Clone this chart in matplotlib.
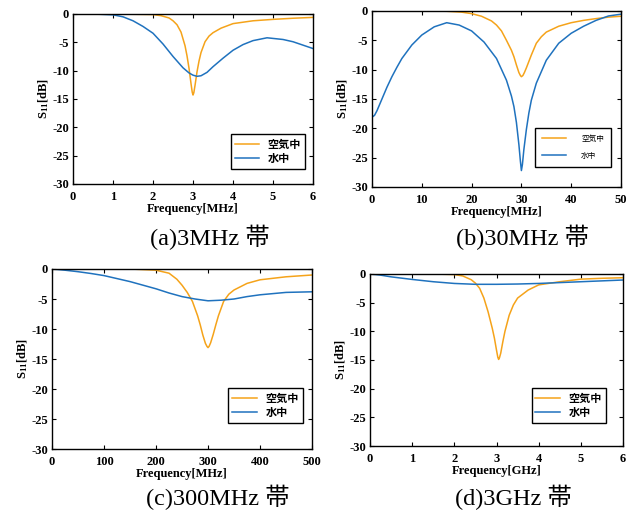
import matplotlib
matplotlib.use('Agg')
import matplotlib.pyplot as plt

# 色
AIR_COLOR = '#F5A31A'
WATER_COLOR = '#1F72BE'

# (a) 3MHz帯
freq_a_air = [0, 1, 2, 2.2, 2.4, 2.5, 2.6, 2.7, 2.8, 2.85, 2.9, 2.95, 2.98, 3.0, 3.02, 3.05, 3.1,
              3.15, 3.2, 3.3, 3.4, 3.5, 3.7, 4.0, 4.5, 5.0, 5.5, 6.0]
s11_a_air = [0, 0, -0.1, -0.3, -0.7, -1.2, -1.9, -3.2, -5.6, -7.4, -9.6, -12.3, -13.8, -14.3,
             -13.9, -12.6, -10.2, -8.3, -6.8, -4.9, -3.9, -3.3, -2.5, -1.7, -1.2, -0.95, -0.75,
             -0.6]
freq_a_water = [0, 0.5, 1.0, 1.25, 1.5, 1.75, 2.0, 2.25, 2.5, 2.75, 2.9, 3.0, 3.1, 3.2, 3.35,
                3.5, 3.75, 4.0, 4.25, 4.5, 4.85, 5.25, 5.5, 5.75, 6.0]
s11_a_water = [0, 0, -0.15, -0.5, -1.2, -2.2, -3.4, -5.3, -7.5, -9.5, -10.4, -10.8, -11.0, -10.9,
               -10.3, -9.3, -7.8, -6.4, -5.4, -4.7, -4.2, -4.5, -4.9, -5.5, -6.1]

# (b) 30MHz帯
freq_b_air = [0, 10, 15, 18, 20, 22, 24, 25, 26, 27, 28, 28.5, 29, 29.5, 29.8, 30, 30.3, 30.6, 31,
              31.5, 32, 33, 34, 35, 37.5, 40, 42.5, 45, 47.5, 50]
s11_b_air = [0, 0, -0.05, -0.2, -0.45, -0.9, -1.7, -2.4, -3.4, -5.0, -6.7, -7.8, -9.2, -10.5,
             -11.0, -11.2, -11.0, -10.5, -9.7, -8.6, -7.5, -5.5, -4.4, -3.6, -2.6, -2.0, -1.6,
             -1.3, -1.05, -0.9]
freq_b_water = [0, 0.5, 1, 2, 3, 4, 5, 6, 8, 10, 12.5, 15, 17.5, 20, 22.5, 25, 27, 28, 28.5, 29,
                29.5, 29.8, 30, 30.2, 30.5, 31, 31.5, 32, 33, 35, 37.5, 40, 42.5, 45, 47.5, 50]
s11_b_water = [-18.1, -17.8, -17.0, -15.0, -13.0, -11.2, -9.6, -8.1, -5.8, -4.1, -2.7, -2.0, -2.4,
               -3.4, -5.3, -8.1, -11.8, -14.5, -16.3, -19.0, -22.8, -25.6, -27.2, -26.2, -23.6,
               -20.2, -17.4, -15.2, -12.3, -8.4, -5.5, -3.8, -2.6, -1.6, -0.85, -0.55]

# (c) 300MHz帯
freq_c_air = [0, 150, 200, 225, 240, 250, 260, 270, 280, 285, 290, 295, 298, 300, 302, 305, 310,
              315, 320, 330, 340, 350, 375, 400, 450, 500]
s11_c_air = [0, 0, -0.2, -0.7, -1.7, -2.7, -3.9, -5.4, -7.8, -9.3, -11.0, -12.4, -12.9, -13.1,
             -12.9, -12.3, -10.9, -9.3, -7.8, -5.4, -4.2, -3.5, -2.4, -1.8, -1.3, -1.0]
freq_c_water = [0, 25, 50, 75, 100, 125, 150, 175, 200, 225, 250, 275, 300, 325, 350, 375, 400,
                450, 500]
s11_c_water = [0, -0.2, -0.45, -0.75, -1.1, -1.6, -2.1, -2.7, -3.3, -4.0, -4.6, -5.0, -5.3, -5.2,
               -5.0, -4.6, -4.3, -3.9, -3.8]

# (d) 3GHz帯
freq_d_air = [0, 1.5, 2.0, 2.2, 2.4, 2.5, 2.6, 2.7, 2.8, 2.9, 2.95, 3.0, 3.03, 3.05, 3.07, 3.1,
              3.15, 3.2, 3.3, 3.4, 3.5, 3.75, 4.0, 4.5, 5.0, 5.5, 6.0]
s11_d_air = [0, 0, -0.1, -0.35, -1.0, -1.6, -2.5, -4.2, -6.6, -9.5, -11.2, -13.3, -14.5, -14.9,
             -14.6, -13.8, -11.8, -10.0, -7.2, -5.4, -4.2, -2.8, -1.9, -1.35, -0.9, -0.75, -0.65]
freq_d_water = [0, 0.25, 0.5, 1.0, 1.5, 2.0, 2.5, 3.0, 3.5, 4.0, 4.5, 5.0, 5.5, 6.0]
s11_d_water = [0, -0.2, -0.5, -0.95, -1.35, -1.65, -1.8, -1.8, -1.75, -1.65, -1.5, -1.35, -1.2,
               -1.05]

xticks_a = [0, 1, 2, 3, 4, 5, 6]
xticks_b = [0, 10, 20, 30, 40, 50]
xticks_c = [0, 100, 200, 300, 400, 500]
xticks_d = [0, 1, 2, 3, 4, 5, 6]
yticks = [0, -5, -10, -15, -20, -25, -30]

captions = ['(a)3MHz 帯', '(b)30MHz 帯', '(c)300MHz 帯', '(d)3GHz 帯']
xlabels = ['Frequency[MHz]', 'Frequency[MHz]', 'Frequency[MHz]', 'Frequency[GHz]']
legend_labels = ['空気中', '水中']

SERIF = ['Liberation Serif', 'Noto Sans CJK JP']
CJK = ['Noto Sans CJK JP', 'DejaVu Sans']

plt.rcParams['mathtext.fontset'] = 'custom'
plt.rcParams['mathtext.rm'] = 'Liberation Serif:bold'
plt.rcParams['mathtext.it'] = 'Liberation Serif:bold'

fig = plt.figure(figsize=(6.36, 5.2), dpi=100)

# 各パネルの位置 [left, bottom, width, height]
positions = [
    [0.1148, 0.6462, 0.3774, 0.3269],
    [0.5849, 0.6404, 0.3915, 0.3385],
    [0.0818, 0.1365, 0.4088, 0.3462],
    [0.5818, 0.1423, 0.3978, 0.3308],
]
legend_anchor = [(0.967, 0.088), (0.960, 0.114), (0.965, 0.144), (0.933, 0.134)]
caption_pos = [(210, 237), (522, 237), (218, 497), (513, 497)]

panels = [
    (freq_a_air, s11_a_air, freq_a_water, s11_a_water, xticks_a),
    (freq_b_air, s11_b_air, freq_b_water, s11_b_water, xticks_b),
    (freq_c_air, s11_c_air, freq_c_water, s11_c_water, xticks_c),
    (freq_d_air, s11_d_air, freq_d_water, s11_d_water, xticks_d),
]

for i, (fa, sa, fw, sw, xt) in enumerate(panels):
    ax = fig.add_axes(positions[i])
    ax.plot(fa, sa, color=AIR_COLOR, lw=1.1, label=legend_labels[0])
    ax.plot(fw, sw, color=WATER_COLOR, lw=1.1, label=legend_labels[1])
    ax.set_xlim(xt[0], xt[-1])
    ax.set_ylim(-30, 0)
    ax.set_xticks(xt)
    ax.set_yticks(yticks)
    ax.set_xticklabels([str(v) for v in xt], family=SERIF, fontweight='bold', fontsize=9)
    ax.set_yticklabels([str(v) for v in yticks], family=SERIF, fontweight='bold', fontsize=9)
    ax.tick_params(direction='in', top=True, right=True, length=3, width=0.8, pad=3)
    ax.tick_params(axis='x', pad=5)
    for sp in ax.spines.values():
        sp.set_linewidth(1.0)
    ax.set_xlabel(xlabels[i], family=SERIF, fontweight='bold', fontsize=9, labelpad=0)
    ax.set_ylabel(r'S$_{11}$[dB]', family=SERIF, fontweight='bold', fontsize=9, labelpad=1)

    if i == 1:
        leg_font = {'family': CJK, 'size': 5.5}
        leg = ax.legend(loc='lower right', bbox_to_anchor=legend_anchor[i], borderaxespad=0,
                        prop=leg_font, fancybox=False, edgecolor='black', framealpha=1,
                        handlelength=3.2, handletextpad=2.0, labelspacing=1.2,
                        borderpad=0.9)
    else:
        leg_font = {'family': CJK, 'size': 8, 'weight': 'bold'}
        leg = ax.legend(loc='lower right', bbox_to_anchor=legend_anchor[i], borderaxespad=0,
                        prop=leg_font, fancybox=False, edgecolor='black', framealpha=1,
                        handlelength=2.2, handletextpad=0.8, labelspacing=0.15,
                        borderpad=0.35)
    leg.get_frame().set_linewidth(1.0)

    cx, cy = caption_pos[i]
    fig.text(cx / 636, 1 - cy / 520, captions[i], ha='center', va='center',
             family=SERIF, fontsize=17.5)

fig.savefig('out.png', dpi=100)
